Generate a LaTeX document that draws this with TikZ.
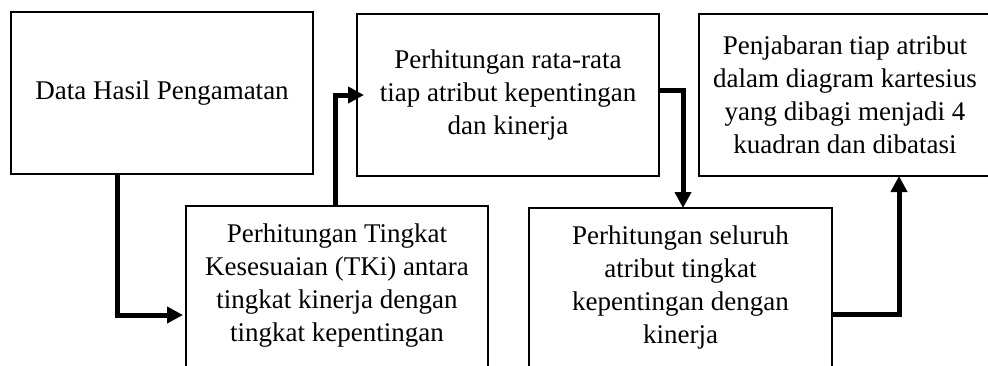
\documentclass[tikz,border=0pt]{standalone}
\usepackage{fontspec}
\setmainfont{Liberation Serif}
\usetikzlibrary{arrows.meta,calc}
\begin{document}
\begin{tikzpicture}[x=1pt,y=-1pt,
  box/.style={draw=black, line width=1.2pt, rectangle, outer sep=0pt, align=center,
    font=\fontsize{27}{33}\selectfont, minimum width=302pt},
  fullbox/.style={box, minimum height=162pt, inner sep=0pt},
  openbox/.style={box, anchor=north, inner xsep=0pt, inner ysep=17.5pt},
  conn/.style={line width=5pt, line join=miter, -{Triangle[length=16pt,width=16pt]}}]
\useasboundingbox (0,0) rectangle (988,365);
\node[fullbox] (b1) at (162,93) {Data Hasil Pengamatan};
\node[fullbox] (b3) at (508,95) {Perhitungan rata-rata\\tiap atribut kepentingan\\dan kinerja};
\node[fullbox, minimum width=292pt] (b5) at (845,95) {Penjabaran tiap atribut\\dalam diagram kartesius\\yang dibagi menjadi 4\\kuadran dan dibatasi};
\node[openbox] (b2) at (337,206) {Perhitungan Tingkat\\Kesesuaian (TKi) antara\\tingkat kinerja dengan\\tingkat kepentingan\\~};
\node[openbox, minimum width=303pt] (b4) at (680.5,208) {Perhitungan seluruh\\atribut tingkat\\kepentingan dengan\\kinerja\\~};
\coordinate (k1) at (117,315);
\coordinate (k2) at (335,95);
\coordinate (k3) at (683,90);
\coordinate (k4) at (899,314);
\draw[conn] (b1.south -| k1) |- ([xshift=-3pt]b2.west |- k1);
\draw[conn] (b2.north -| k2) |- ([xshift=7pt]b3.west |- k2);
\draw[conn] (b3.east |- k3) -| (b4.north -| k3);
\draw[conn] (b4.east |- k4) -| (b5.south -| k4);
\end{tikzpicture}
\end{document}
